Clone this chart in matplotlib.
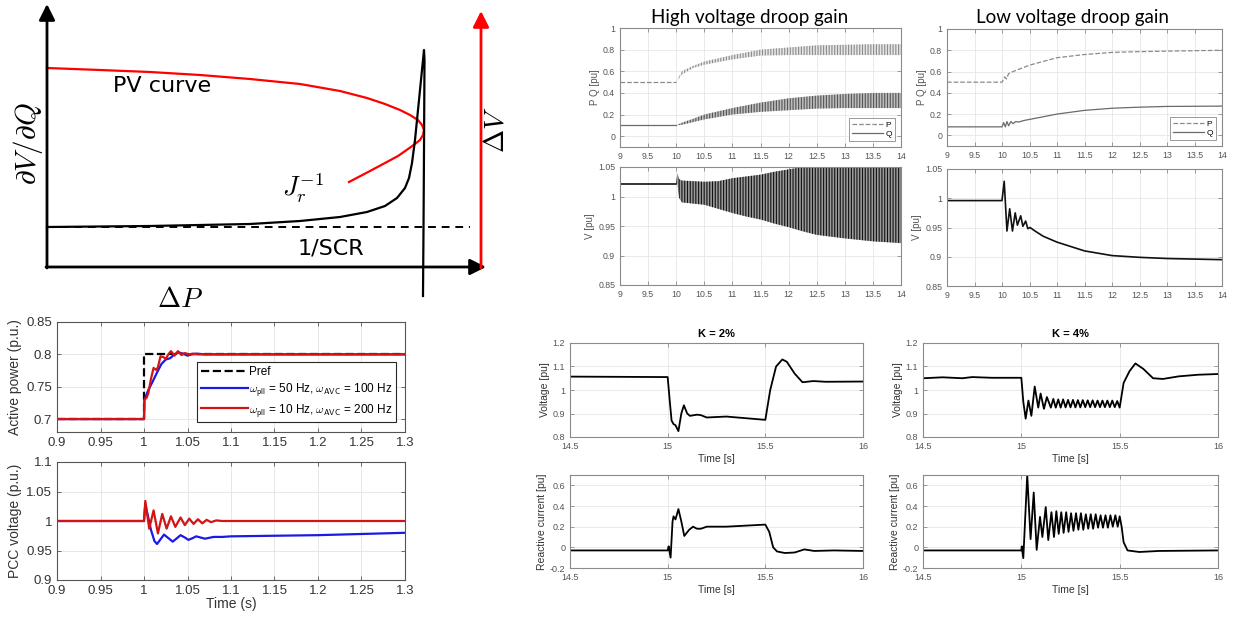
import matplotlib
matplotlib.use('Agg')
import matplotlib.pyplot as plt
from matplotlib.ticker import FormatStrFormatter

plt.rcParams['font.family'] = ['Liberation Sans', 'DejaVu Sans']
plt.rcParams['mathtext.fontset'] = 'cm'
plt.rcParams['hatch.linewidth'] = 0.8

# ---------------- data ----------------
# sketch (top left), units = drawing units, y grows downwards
jr_x = [47, 150, 250, 300, 340, 367, 385, 397, 405, 409, 412, 415, 418, 421, 423, 424,
        424.5, 424, 423.5, 423]
jr_y = [227, 226, 224, 221, 217, 212, 206, 198, 188, 178, 163, 140, 110, 80, 60, 50,
        60, 150, 230, 296]
pv_x = [47, 100, 150, 200, 250, 300, 340, 367, 385, 400, 410, 418, 422, 424, 423, 420,
        415, 408, 398, 385, 370, 349]
pv_y = [68, 70, 72, 75, 79, 84, 91, 98, 104, 110, 115, 120, 125, 130, 135, 140,
        144, 149, 156, 163, 171, 182]
scr_x = [47, 470]
scr_y = [227, 227]

# active power / PCC voltage (bottom left)
pref_t = [0.9, 1.0, 1.0, 1.3]
pref_p = [0.7, 0.7, 0.8, 0.8]
pb_t = [0.9, 1.0, 1.0005, 1.005, 1.01, 1.015, 1.02, 1.025, 1.03, 1.035, 1.04, 1.045,
        1.05, 1.055, 1.06, 1.07, 1.08, 1.3]
pb_p = [0.7, 0.7, 0.73, 0.745, 0.758, 0.772, 0.785, 0.792, 0.794, 0.8, 0.803, 0.801,
        0.798, 0.8, 0.801, 0.8, 0.8, 0.8]
pr_t = [0.9, 1.0, 1.0005, 1.003, 1.005, 1.008, 1.011, 1.014, 1.016, 1.019, 1.022, 1.025,
        1.028, 1.031, 1.035, 1.039, 1.043, 1.047, 1.051, 1.056, 1.062, 1.07, 1.3]
pr_p = [0.7, 0.7, 0.73, 0.733, 0.74, 0.762, 0.779, 0.776, 0.78, 0.797, 0.796, 0.793,
        0.8, 0.805, 0.798, 0.805, 0.799, 0.802, 0.8, 0.801, 0.8, 0.8, 0.8]
vb_t = [0.9, 1.0, 1.0015, 1.004, 1.008, 1.012, 1.015, 1.019, 1.023, 1.028, 1.033, 1.038,
        1.042, 1.047, 1.051, 1.056, 1.06, 1.065, 1.07, 1.08, 1.09, 1.1, 1.15, 1.2, 1.25, 1.3]
vb_v = [1.0, 1.0, 1.028, 1.012, 0.985, 0.966, 0.961, 0.969, 0.977, 0.971, 0.965, 0.971,
        0.976, 0.972, 0.968, 0.971, 0.974, 0.972, 0.97, 0.973, 0.973, 0.974, 0.975, 0.976,
        0.978, 0.98]
vr_t = [0.9, 1.0, 1.0015, 1.006, 1.011, 1.016, 1.021, 1.026, 1.031, 1.036, 1.042, 1.047,
        1.052, 1.057, 1.062, 1.067, 1.072, 1.077, 1.083, 1.09, 1.3]
vr_v = [1.0, 1.0, 1.034, 0.987, 1.018, 0.979, 1.012, 0.987, 1.008, 0.99, 1.006, 0.993,
        1.004, 0.995, 1.003, 0.996, 1.002, 0.998, 1.001, 1.0, 1.0]
bl_xticks = [0.9, 0.95, 1.0, 1.05, 1.1, 1.15, 1.2, 1.25, 1.3]

# droop gain cases (top right)
pre_t = [9.0, 10.0]
hv_p0, hv_q0, hv_v0 = 0.5, 0.1, 1.022
env_t = [10.0, 10.1, 10.3, 10.5, 11.0, 11.5, 12.0, 12.5, 13.0, 13.5, 14.0]
hv_p_hi = [0.5, 0.6, 0.65, 0.69, 0.75, 0.8, 0.82, 0.84, 0.845, 0.85, 0.85]
hv_p_lo = [0.5, 0.57, 0.63, 0.66, 0.71, 0.745, 0.75, 0.75, 0.75, 0.75, 0.75]
hv_q_hi = [0.1, 0.125, 0.16, 0.2, 0.26, 0.31, 0.35, 0.375, 0.39, 0.4, 0.4]
hv_q_lo = [0.1, 0.105, 0.13, 0.155, 0.2, 0.225, 0.24, 0.255, 0.26, 0.26, 0.26]
venv_t = [10.0, 10.02, 10.05, 10.1, 10.3, 10.5, 10.75, 11.0, 11.25, 11.5, 11.75, 12.0,
          12.25, 12.5, 13.0, 13.5, 14.0]
hv_v_hi = [1.022, 1.04, 1.03, 1.027, 1.026, 1.025, 1.026, 1.031, 1.034, 1.037, 1.042,
           1.046, 1.05, 1.05, 1.05, 1.05, 1.05]
hv_v_lo = [1.022, 1.022, 0.998, 0.99, 0.988, 0.986, 0.979, 0.972, 0.966, 0.961, 0.954,
           0.948, 0.941, 0.935, 0.929, 0.924, 0.921]

lv_t_p = [9.0, 10.0, 10.05, 10.08, 10.12, 10.2, 10.5, 11.0, 11.5, 12.0, 12.5, 13.0, 13.5, 14.0]
lv_p = [0.5, 0.5, 0.55, 0.53, 0.58, 0.6, 0.66, 0.73, 0.76, 0.78, 0.787, 0.792, 0.796, 0.8]
lv_t_q = [9.0, 10.0, 10.03, 10.06, 10.09, 10.12, 10.16, 10.2, 10.25, 10.3, 10.4, 10.5,
          11.0, 11.5, 12.0, 12.5, 13.0, 14.0]
lv_q = [0.08, 0.08, 0.12, 0.08, 0.13, 0.09, 0.13, 0.11, 0.13, 0.125, 0.14, 0.15,
        0.2, 0.235, 0.255, 0.265, 0.272, 0.275]
lv_t_v = [9.0, 10.0, 10.04, 10.09, 10.14, 10.19, 10.24, 10.28, 10.34, 10.38, 10.43, 10.47,
          10.51, 10.6, 10.75, 11.0, 11.5, 12.0, 12.5, 13.0, 14.0]
lv_v = [0.996, 0.996, 1.029, 0.944, 0.982, 0.944, 0.975, 0.954, 0.97, 0.952, 0.961, 0.948,
        0.95, 0.944, 0.935, 0.925, 0.91, 0.902, 0.899, 0.897, 0.895]
tr_xticks = [9, 9.5, 10, 10.5, 11, 11.5, 12, 12.5, 13, 13.5, 14]

# K = 2% / K = 4% (bottom right)
k2_tv = [14.5, 15.0, 15.01, 15.02, 15.03, 15.04, 15.055, 15.07, 15.083, 15.1, 15.114,
         15.15, 15.17, 15.2, 15.3, 15.4, 15.5, 15.525, 15.555, 15.587, 15.61, 15.65,
         15.69, 15.745, 15.81, 16.0]
k2_v = [1.057, 1.055, 0.96, 0.87, 0.855, 0.85, 0.825, 0.9, 0.935, 0.9, 0.89,
        0.895, 0.893, 0.883, 0.887, 0.88, 0.873, 1.0, 1.1, 1.13, 1.12, 1.07,
        1.033, 1.038, 1.035, 1.036]
k2_ti = [14.5, 15.0, 15.005, 15.015, 15.025, 15.03, 15.04, 15.055, 15.07, 15.085, 15.11,
         15.13, 15.15, 15.17, 15.2, 15.3, 15.4, 15.5, 15.52, 15.54, 15.56, 15.6, 15.65,
         15.7, 15.75, 15.85, 16.0]
k2_i = [-0.03, -0.03, 0.01, -0.1, 0.25, 0.3, 0.27, 0.37, 0.25, 0.11, 0.17,
        0.2, 0.18, 0.18, 0.2, 0.2, 0.21, 0.22, 0.15, 0.0, -0.04, -0.055, -0.05,
        -0.02, -0.035, -0.03, -0.035]
k4_tv = [14.5, 14.6, 14.7, 14.75, 14.85, 15.0, 15.01, 15.022, 15.036, 15.051, 15.068,
         15.086, 15.098, 15.115, 15.13, 15.15,
         15.1625, 15.175, 15.1875, 15.2, 15.2125, 15.225, 15.2375, 15.25, 15.2625, 15.275,
         15.2875, 15.3, 15.3125, 15.325, 15.3375, 15.35, 15.3625, 15.375, 15.3875, 15.4,
         15.4125, 15.425, 15.4375, 15.45, 15.4625, 15.475, 15.4875, 15.5,
         15.52, 15.55, 15.58, 15.62, 15.67, 15.72, 15.8, 15.9, 16.0]
k4_v = [1.05, 1.054, 1.05, 1.055, 1.052, 1.052, 0.95, 0.878, 0.955, 0.89, 1.015,
        0.925, 0.985, 0.92, 0.97, 0.925,
        0.962, 0.925, 0.96, 0.925, 0.96, 0.926, 0.958, 0.926, 0.958, 0.926,
        0.957, 0.926, 0.957, 0.927, 0.956, 0.927, 0.956, 0.927, 0.955, 0.927,
        0.955, 0.927, 0.955, 0.927, 0.955, 0.927, 0.953, 0.925,
        1.03, 1.08, 1.113, 1.09, 1.05, 1.047, 1.058, 1.065, 1.068]
k4_ti = [14.5, 15.0, 15.002, 15.01, 15.03, 15.047, 15.063, 15.078, 15.095, 15.107, 15.124,
         15.137, 15.153, 15.166,
         15.178, 15.19, 15.203, 15.215, 15.228, 15.24, 15.253, 15.265, 15.278, 15.29,
         15.303, 15.315, 15.328, 15.34, 15.353, 15.365, 15.378, 15.39, 15.403, 15.415,
         15.428, 15.44, 15.453, 15.465, 15.478, 15.49, 15.5,
         15.51, 15.52, 15.54, 15.6, 15.7, 16.0]
k4_i = [-0.03, -0.03, 0.01, -0.105, 0.7, 0.08, 0.53, -0.025, 0.295, 0.1, 0.39,
        0.07, 0.34, 0.1,
        0.35, 0.13, 0.34, 0.14, 0.34, 0.15, 0.33, 0.16, 0.33, 0.17,
        0.33, 0.17, 0.32, 0.18, 0.32, 0.18, 0.32, 0.19, 0.31, 0.19,
        0.31, 0.19, 0.31, 0.2, 0.31, 0.2, 0.3,
        0.2, 0.05, -0.03, -0.045, -0.035, -0.03]
br_xticks = [14.5, 15, 15.5, 16]

# ---------------- figure ----------------
W, H = 1236, 619
fig = plt.figure(figsize=(W / 100, H / 100), dpi=100)


def box(l, t, r, b):
    return fig.add_axes([l / W, 1 - b / H, (r - l) / W, (b - t) / H])


def matlab(ax, fs, tc, ec, gc):
    ax.tick_params(direction='in', labelsize=fs, colors=ec, labelcolor=tc, length=3, width=0.6,
                   top=True, right=True)
    for s in ax.spines.values():
        s.set_color(ec)
        s.set_linewidth(0.8)
    ax.grid(True, color=gc, lw=0.6)
    ax.set_axisbelow(True)
    ax.xaxis.set_major_formatter(FormatStrFormatter('%g'))
    ax.yaxis.set_major_formatter(FormatStrFormatter('%g'))


# sketch
ax0 = box(0, 0, 510, 318)
ax0.set_xlim(0, 510)
ax0.set_ylim(318, 0)
ax0.axis('off')
arr = dict(arrowstyle='-|>', lw=2, mutation_scale=24, shrinkA=0, shrinkB=0)
ax0.annotate('', xy=(47, 4), xytext=(47, 268), arrowprops=dict(color='black', **arr))
ax0.annotate('', xy=(486, 267), xytext=(46, 267), arrowprops=dict(color='black', **arr))
ax0.annotate('', xy=(481, 11), xytext=(481, 268), arrowprops=dict(color='red', **arr))
ax0.plot(scr_x, scr_y, color='black', ls=(0, (4, 3)), lw=1.4)
ax0.plot(pv_x, pv_y, color='red', lw=1.6)
ax0.plot(jr_x, jr_y, color='black', lw=1.6)
ax0.text(113, 86, 'PV curve', fontsize=16, family='DejaVu Sans', va='center')
ax0.text(298, 248, '1/SCR', fontsize=16, family='DejaVu Sans', va='center')
ax0.text(282, 188, r'$J_r^{-1}$', fontsize=19, va='center')
ax0.text(28, 144, r'$\partial V/\partial Q$', fontsize=21, rotation=90, ha='center', va='center')
ax0.text(496, 130, r'$\Delta V$', fontsize=20, rotation=90, ha='center', va='center')
ax0.text(180, 300, r'$\Delta P$', fontsize=20, ha='center', va='center')

# active power
ax1 = box(57, 322, 405, 432)
ax1.plot(pref_t, pref_p, 'k--', lw=1.6, label='Pref')
ax1.plot(pb_t, pb_p, color='#1a1ae6', lw=1.6,
         label=r'$\omega_{\mathsf{pll}}$ = 50 Hz, $\omega_{\mathsf{AVC}}$ = 100 Hz')
ax1.plot(pr_t, pr_p, color='#d41414', lw=1.6,
         label=r'$\omega_{\mathsf{pll}}$ = 10 Hz, $\omega_{\mathsf{AVC}}$ = 200 Hz')
ax1.set_xlim(0.9, 1.3)
ax1.set_ylim(0.68, 0.85)
ax1.set_xticks(bl_xticks)
ax1.set_yticks([0.7, 0.75, 0.8, 0.85])
matlab(ax1, 9.5, '#333333', '#555555', '#e3e3e3')
ax1.set_ylabel('Active power (p.u.)', fontsize=10, color='#333333', labelpad=3)
leg = ax1.legend(loc='lower right', bbox_to_anchor=(0.991, 0.036), fontsize=8.5,
                 handlelength=4.0, handletextpad=0.1, labelspacing=0.3, borderpad=0.3,
                 fancybox=False, framealpha=1, edgecolor='#262626')
leg.get_frame().set_linewidth(0.8)

# PCC voltage
ax2 = box(57, 462, 405, 580)
ax2.plot(vb_t, vb_v, color='#1a1ae6', lw=1.6)
ax2.plot(vr_t, vr_v, color='#d41414', lw=1.6)
ax2.set_xlim(0.9, 1.3)
ax2.set_ylim(0.9, 1.1)
ax2.set_xticks(bl_xticks)
ax2.set_yticks([0.9, 0.95, 1.0, 1.05, 1.1])
matlab(ax2, 9.5, '#333333', '#555555', '#e3e3e3')
ax2.set_ylabel('PCC voltage (p.u.)', fontsize=10, color='#333333', labelpad=3)
ax2.set_xlabel('Time (s)', fontsize=10, color='#333333', labelpad=0)

# high / low voltage droop gain
fig.text(750 / W, 1 - 18 / H, 'High voltage droop gain', fontsize=13.5, family='Lato',
         ha='center', va='center')
fig.text(1073 / W, 1 - 18 / H, 'Low voltage droop gain', fontsize=13.5, family='Lato',
         ha='center', va='center')

hv_pq = box(620, 28, 901, 147)
hv_pq.plot(pre_t, [hv_p0, hv_p0], color='#8a8a8a', ls='--', lw=0.9, label='P')
hv_pq.plot(pre_t, [hv_q0, hv_q0], color='#6a6a6a', lw=0.9, label='Q')
hv_pq.fill_between(env_t, hv_p_lo, hv_p_hi, facecolor='#e6e6e6', edgecolor='#8a8a8a',
                   hatch='||||||', lw=0)
hv_pq.fill_between(env_t, hv_q_lo, hv_q_hi, facecolor='#bdbdbd', edgecolor='#555555',
                   hatch='||||||', lw=0)

lv_pq = box(947, 29, 1222, 146)
lv_pq.plot(lv_t_p, lv_p, color='#8a8a8a', ls='--', lw=0.9, label='P')
lv_pq.plot(lv_t_q, lv_q, color='#6a6a6a', lw=0.9, label='Q')

for ax in (hv_pq, lv_pq):
    ax.set_xlim(9, 14)
    ax.set_ylim(-0.1, 1)
    ax.set_xticks(tr_xticks)
    ax.set_yticks([0, 0.2, 0.4, 0.6, 0.8, 1])
    matlab(ax, 6.3, '#555555', '#8a8a8a', '#e6e6e6')
    ax.set_ylabel('P Q [pu]', fontsize=7, color='#555555', labelpad=2)
    lg = ax.legend(loc='lower right', fontsize=6, handlelength=3.8, handletextpad=0.3,
                   labelspacing=0.15, borderpad=0.35, borderaxespad=0.7, fancybox=False,
                   framealpha=1, edgecolor='#8a8a8a')
    lg.get_frame().set_linewidth(0.6)

hv_v = box(620, 167, 901, 285)
hv_v.plot(pre_t, [hv_v0, hv_v0], color='#111111', lw=1.2)
hv_v.fill_between(venv_t, hv_v_lo, hv_v_hi, facecolor='#9a9a9a', edgecolor='#111111',
                  hatch='||||||', lw=0)

lv_v_ax = box(947, 169, 1222, 286)
lv_v_ax.plot(lv_t_v, lv_v, color='#111111', lw=1.2)

for ax in (hv_v, lv_v_ax):
    ax.set_xlim(9, 14)
    ax.set_ylim(0.85, 1.05)
    ax.set_xticks(tr_xticks)
    ax.set_yticks([0.85, 0.9, 0.95, 1.0, 1.05])
    matlab(ax, 6.3, '#555555', '#8a8a8a', '#e6e6e6')
    ax.set_ylabel('V [pu]', fontsize=7, color='#555555', labelpad=2)

# K = 2% and K = 4%
panels = [((570, 343, 863, 437), (570, 475, 863, 568), k2_tv, k2_v, k2_ti, k2_i, 'K = 2%'),
          ((923, 343, 1218, 437), (923, 475, 1218, 568), k4_tv, k4_v, k4_ti, k4_i, 'K = 4%')]
for vpos, ipos, tv, v, ti, i, title in panels:
    axv = box(*vpos)
    axv.plot(tv, v, color='black', lw=1.3)
    axv.set_xlim(14.5, 16)
    axv.set_ylim(0.8, 1.2)
    axv.set_xticks(br_xticks)
    axv.set_yticks([0.8, 0.9, 1.0, 1.1, 1.2])
    matlab(axv, 6.5, '#555555', '#8a8a8a', '#e6e6e6')
    axv.set_title(title, fontsize=8, fontweight='bold', pad=4)
    axv.set_ylabel('Voltage [pu]', fontsize=7.5, color='#333333', labelpad=2)
    axv.set_xlabel('Time [s]', fontsize=7.5, color='#333333', labelpad=2)

    axi = box(*ipos)
    axi.plot(ti, i, color='black', lw=1.3)
    axi.set_xlim(14.5, 16)
    axi.set_ylim(-0.2, 0.7)
    axi.set_xticks(br_xticks)
    axi.set_yticks([-0.2, 0, 0.2, 0.4, 0.6])
    matlab(axi, 6.5, '#555555', '#8a8a8a', '#e6e6e6')
    axi.set_ylabel('Reactive current [pu]', fontsize=7.5, color='#333333', labelpad=2)
    axi.set_xlabel('Time [s]', fontsize=7.5, color='#333333', labelpad=2)

fig.savefig('out.png', dpi=100)
